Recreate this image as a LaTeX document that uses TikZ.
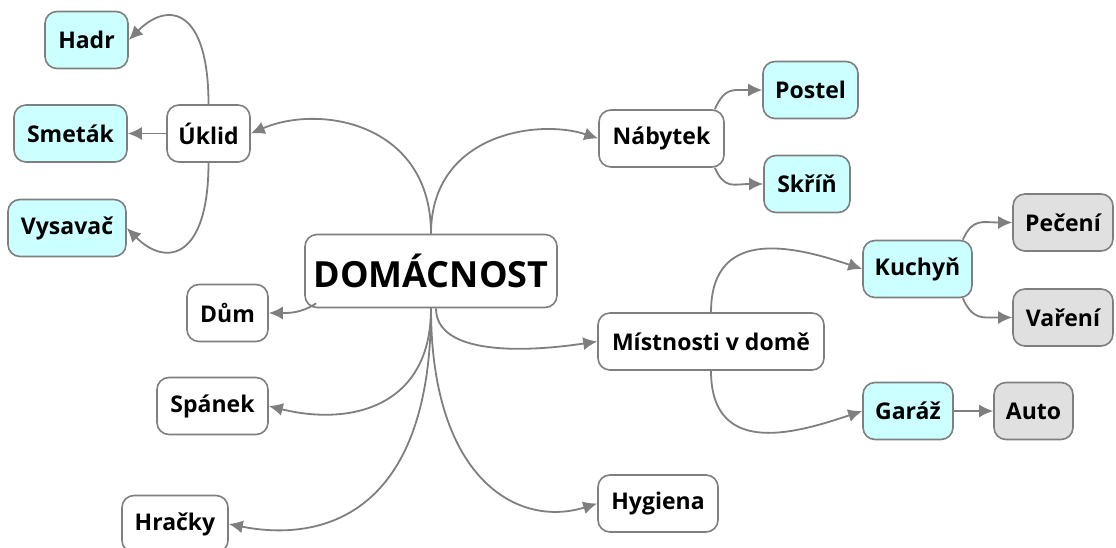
\documentclass[tikz,border=0pt]{standalone}
\usepackage{fontspec}
\setmainfont{Open Sans}
\usetikzlibrary{arrows.meta}
\definecolor{cyanfill}{HTML}{CCFFFF}
\definecolor{grayfill}{HTML}{E0E0E0}
\definecolor{edgegray}{HTML}{7F7F7F}
\begin{document}
\begin{tikzpicture}[x=1pt,y=-1pt,
  box/.style={draw=edgegray, line width=1.6pt, rounded corners=12pt, fill=white,
    minimum height=57pt, inner sep=0pt, font=\bfseries\fontsize{23}{23}\selectfont},
  cy/.style={box, fill=cyanfill},
  gr/.style={box, fill=grayfill},
  arr/.style={draw=edgegray, line width=1.8pt, -{Latex[length=14pt,width=13pt]}}]
\useasboundingbox (0,0) rectangle (1116,548);
% nodes
\node[box, minimum width=252pt, minimum height=73pt, font=\bfseries\fontsize{36}{36}\selectfont] (D) at (431,271) {DOMÁCNOST};
\node[box, minimum width=83pt] (U) at (208.5,133.5) {Úklid};
\node[cy, minimum width=83pt] (Ha) at (86.5,40) {Hadr};
\node[cy, minimum width=113pt] (Sm) at (70.5,133.5) {Smeták};
\node[cy, minimum width=118pt] (V) at (67,228) {Vysavač};
\node[box, minimum width=125pt] (N) at (661.5,138.5) {Nábytek};
\node[cy, minimum width=95pt] (P) at (810.5,90) {Postel};
\node[cy, minimum width=86pt] (Sk) at (807,184) {Skříň};
\node[box, minimum width=226pt] (M) at (711,341.5) {Místnosti v domě};
\node[cy, minimum width=109pt] (K) at (917.5,269) {Kuchyň};
\node[gr, minimum width=100pt] (Pe) at (1063,222.5) {Pečení};
\node[gr, minimum width=100pt] (Va) at (1063,317.5) {Vaření};
\node[cy, minimum width=90pt] (G) at (908,411) {Garáž};
\node[gr, minimum width=79pt] (A) at (1033.5,411) {Auto};
\node[box, minimum width=81pt] (Du) at (227.5,313) {Dům};
\node[box, minimum width=111pt] (S) at (212.5,406) {Spánek};
\node[box, minimum width=106pt] (Hr) at (175,524) {Hračky};
\node[box, minimum width=120pt] (Hy) at (658,503.5) {Hygiena};
% edges from centre
\draw[arr] (D.north) .. controls +(0,-110) and +(70,-30) .. (U.east);
\draw[arr] (D.north) .. controls +(0,-100) and +(-60,-20) .. (N.west);
\draw[arr] ([shift={(12,-5)}]D.south west) .. controls +(-15,10) and +(20,0) .. (Du.east);
\draw[arr] (D.south) .. controls +(0,100) and +(80,20) .. (S.east);
\draw[arr] (D.south) .. controls +(0,210) and +(90,18) .. (Hr.east);
\draw[arr] ([xshift=5]D.south) .. controls +(0,45) and +(-80,12) .. (M.west);
\draw[arr] (D.south) .. controls +(0,170) and +(-80,25) .. (Hy.west);
% Uklid
\draw[arr] (U.north) .. controls +(0,-95) and +(40,-40) .. (Ha.east);
\draw[arr] (U.west) -- (Sm.east);
\draw[arr] (U.south) .. controls +(0,95) and +(40,40) .. (V.east);
% Nabytek
\draw[arr] ([xshift=-10]N.north east) .. controls +(10,-22) and +(-30,0) .. (P.west);
\draw[arr] ([xshift=-10]N.south east) .. controls +(10,22) and +(-30,0) .. (Sk.west);
% Mistnosti
\draw[arr] (M.north) .. controls +(0,-90) and +(-60,-20) .. (K.west);
\draw[arr] (M.south) .. controls +(0,90) and +(-60,20) .. (G.west);
\draw[arr] ([xshift=-10]K.north east) .. controls +(10,-22) and +(-30,0) .. (Pe.west);
\draw[arr] ([xshift=-10]K.south east) .. controls +(10,22) and +(-30,0) .. (Va.west);
\draw[arr] (G.east) -- (A.west);
\end{tikzpicture}
\end{document}
